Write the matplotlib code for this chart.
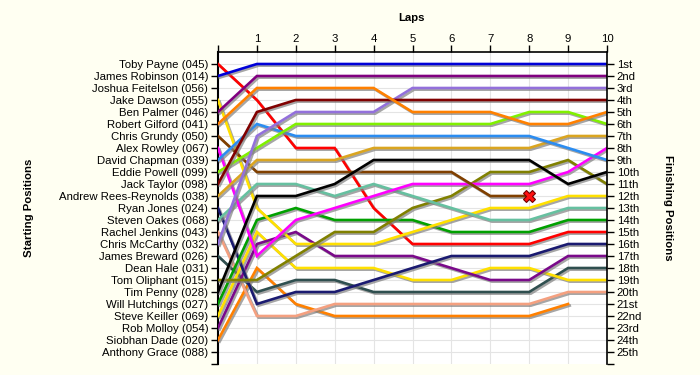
import matplotlib
matplotlib.use("Agg")
import matplotlib.pyplot as plt
import matplotlib.patheffects as pe

# starting grid (position 1..25)
drivers = ["Toby Payne (045)", "James Robinson (014)", "Joshua Feitelson (056)",
           "Jake Dawson (055)", "Ben Palmer (046)", "Robert Gilford (041)",
           "Chris Grundy (050)", "Alex Rowley (067)", "David Chapman (039)",
           "Eddie Powell (099)", "Jack Taylor (098)", "Andrew Rees-Reynolds (038)",
           "Ryan Jones (024)", "Steven Oakes (068)", "Rachel Jenkins (043)",
           "Chris McCarthy (032)", "James Breward (026)", "Dean Hale (031)",
           "Tom Oliphant (015)", "Tim Penny (028)", "Will Hutchings (027)",
           "Steve Keiller (069)", "Rob Molloy (054)", "Siobhan Dade (020)",
           "Anthony Grace (088)"]
finish_labels = ["1st", "2nd", "3rd", "4th", "5th", "6th", "7th", "8th", "9th", "10th",
                 "11th", "12th", "13th", "14th", "15th", "16th", "17th", "18th", "19th",
                 "20th", "21st", "22nd", "23rd", "24th", "25th"]
laps = list(range(0, 11))

# position at each lap (lap 0 = grid)
toby_payne     = [1, 4, 8, 8, 13, 16, 16, 16, 16, 15, 15]
james_robinson = [2, 1, 1, 1, 1, 1, 1, 1, 1, 1, 1]
jake_dawson    = [4, 13, 16, 16, 16, 15, 14, 13, 13, 12, 12]
ben_palmer     = [5, 2, 2, 2, 2, 2, 2, 2, 2, 2, 2]
robert_gilford = [6, 3, 3, 3, 3, 5, 5, 5, 6, 6, 5]
chris_grundy   = [7, 10, 10, 10, 10, 10, 10, 12, 12]
alex_rowley    = [8, 17, 14, 13, 12, 11, 11, 11, 11, 10, 8]
david_chapman  = [9, 6, 7, 7, 7, 7, 7, 7, 7, 8, 9]
eddie_powell   = [10, 8, 6, 6, 6, 6, 6, 6, 5, 5, 6]
jack_taylor    = [11, 5, 4, 4, 4, 4, 4, 4, 4, 4, 4]
andrew_rr      = [12, 9, 9, 9, 8, 8, 8, 8, 8, 7, 7]
ryan_jones     = [13, 21, 20, 20, 19, 18, 17, 17, 17, 16, 16]
steven_oakes   = [14, 11, 11, 12, 11, 12, 13, 14, 14, 13, 13]
rachel_jenkins = [15, 22, 22, 21, 21, 21, 21, 21, 21, 20, 20]
chris_mccarthy = [16, 7, 5, 5, 5, 3, 3, 3, 3, 3, 3]
james_breward  = [17, 20, 19, 19, 20, 20, 20, 20, 20, 18, 18]
tom_oliphant   = [19, 19, 17, 15, 15, 13, 12, 10, 10, 9, 11]
tim_penny      = [20, 12, 12, 11, 9, 9, 9, 9, 9, 11, 10]
will_hutchings = [21, 14, 13, 14, 14, 14, 15, 15, 15, 14, 14]
steve_keiller  = [22, 15, 18, 18, 18, 19, 19, 18, 18, 19, 19]
rob_molloy     = [23, 16, 15, 17, 17, 17, 18, 19, 19, 17, 17]
siobhan_dade   = [24, 18, 21, 22, 22, 22, 22, 22, 22, 21]

retired_lap = 8
retired_pos = 12

series = [
    (james_robinson, "#0000d8"), (ben_palmer, "#800080"), (robert_gilford, "#ff8000"),
    (jack_taylor, "#800000"), (chris_mccarthy, "#9370db"), (eddie_powell, "#80f000"),
    (david_chapman, "#2b8cf0"), (andrew_rr, "#daa520"), (tim_penny, "#000000"),
    (chris_grundy, "#804000"), (alex_rowley, "#ff00ff"), (steven_oakes, "#66c0a0"),
    (tom_oliphant, "#808000"), (jake_dawson, "#ffe000"), (will_hutchings, "#00a000"),
    (toby_payne, "#ff0000"), (ryan_jones, "#1a1a70"), (rob_molloy, "#7a0a8a"),
    (steve_keiller, "#ffe000"), (james_breward, "#2f4f4f"), (rachel_jenkins, "#f4a080"),
    (siobhan_dade, "#ff8000"),
]

plt.rcParams['font.family'] = ['Liberation Sans', 'DejaVu Sans']
fig = plt.figure(figsize=(7, 3.75), dpi=100, facecolor="#fffff2")
ax = fig.add_axes([218/700, 1-364/375, (607-218)/700, (364-52)/375])
ax.set_facecolor("white")

shadow = [pe.SimpleLineShadow(offset=(1.2, -1.2), shadow_color="#808080", alpha=0.7), pe.Normal()]
for pos, col in reversed(series):
    ax.plot(laps[:len(pos)], pos, color=col, lw=1.9, solid_joinstyle="miter",
            path_effects=shadow, zorder=3)

ax.plot(retired_lap, retired_pos, marker="X", ms=8, mfc="#ff1010", mec="#700000",
        mew=0.8, zorder=5)

ax.set_xlim(0, 10)
ax.set_ylim(26, 0)
ax.set_xticks(laps[1:])
ax.xaxis.tick_top()
ax.set_yticks(range(1, 26))
ax.set_yticklabels(drivers)
ax.set_yticks([26], minor=True)
ax.set_xticks([0], minor=True)

ax2 = ax.twinx()
ax2.set_ylim(26, 0)
ax2.set_yticks(range(1, 26))
ax2.set_yticklabels(finish_labels)
ax2.set_yticks([26], minor=True)

for a in (ax, ax2):
    a.tick_params(which="both", length=5, width=1, color="black", labelsize=8.2, pad=2)
    for s in a.spines.values():
        s.set_visible(False)
ax.tick_params(axis="x", pad=0.5)
ax.spines["left"].set_visible(True)
ax.spines["top"].set_visible(True)
ax2.spines["right"].set_visible(True)
ax.spines["left"].set_linewidth(1.5)
ax.spines["top"].set_linewidth(1.2)
ax2.spines["right"].set_linewidth(1.2)

ax.grid(True, color="#e4e4e4", lw=0.8, zorder=0)
ax.set_axisbelow(True)

fig.text(412/700, 1-18/375, "Laps", ha="center", va="center", fontsize=8.2, fontweight="bold")
fig.text(29/700, 1-208/375, "Starting Positions", ha="center", va="center", rotation=90,
         fontsize=8.2, fontweight="bold")
fig.text(668/700, 1-208/375, "Finishing Positions", ha="center", va="center", rotation=-90,
         fontsize=8.2, fontweight="bold")

fig.savefig("out.png", dpi=100, facecolor=fig.get_facecolor())
